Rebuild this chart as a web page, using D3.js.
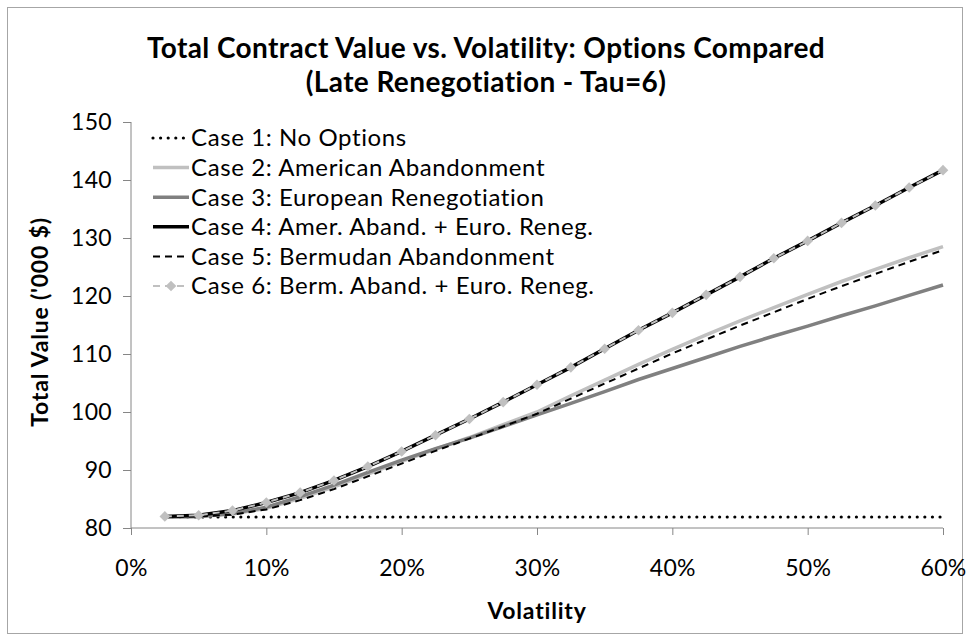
<!DOCTYPE html>
<html lang="en">

  <head>
    <meta charset="UTF-8">
    <title>Total Contract Value vs. Volatility</title>
    <script src="https://d3js.org/d3.v7.min.js"></script>
    <style>
      body { margin: 0; background: #fff; }
      text { font-family: Lato, "Open Sans", sans-serif; fill: #000; }
      .axis path, .axis line { stroke: #868686; }
      .axis text { font-size: 23px; font-family: Lato, sans-serif; letter-spacing: 0.3px; }
      .title { font-weight: bold; font-size: 28px; letter-spacing: 0.4px; }
      .axis-title { font-weight: bold; font-size: 23px; letter-spacing: 0.8px; }
      .legend text { font-size: 24px; letter-spacing: 0.6px; }
    </style>
  </head>

  <body>
    <script>
      // volatility (%) of each point
      const volatility = [2.5, 5, 7.5, 10, 12.5, 15, 17.5, 20, 22.5, 25, 27.5, 30,
        32.5, 35, 37.5, 40, 42.5, 45, 47.5, 50, 52.5, 55, 57.5, 60]

      const case1 = [81.9, 81.9, 81.9, 81.9, 81.9, 81.9, 81.9, 81.9, 81.9, 81.9, 81.9, 81.9,
        81.9, 81.9, 81.9, 81.9, 81.9, 81.9, 81.9, 81.9, 81.9, 81.9, 81.9, 81.9]
      const case2 = [81.9, 82.0, 82.4, 83.4, 85.1, 87.1, 89.3, 91.5, 93.6, 95.6, 97.8, 100.0,
        102.8, 105.5, 108.2, 110.8, 113.3, 115.7, 118.0, 120.3, 122.5, 124.6, 126.6, 128.5]
      const case3 = [81.9, 82.0, 82.5, 83.6, 85.4, 87.4, 89.6, 91.7, 93.7, 95.5, 97.5, 99.5,
        101.5, 103.5, 105.6, 107.5, 109.4, 111.3, 113.1, 114.8, 116.6, 118.3, 120.1, 121.9]
      const case4 = [82.0, 82.2, 83.0, 84.4, 86.1, 88.2, 90.6, 93.2, 96.0, 98.8, 101.7, 104.7,
        107.7, 110.9, 114.1, 117.1, 120.2, 123.3, 126.5, 129.5, 132.6, 135.6, 138.7, 141.7]
      const case5 = [81.9, 82.0, 82.3, 83.2, 84.8, 86.7, 88.9, 91.1, 93.3, 95.4, 97.5, 99.7,
        102.3, 104.9, 107.5, 110.1, 112.5, 114.9, 117.2, 119.5, 121.7, 123.8, 125.9, 127.9]
      const case6 = [82.0, 82.2, 83.0, 84.4, 86.1, 88.2, 90.6, 93.2, 96.0, 98.8, 101.7, 104.7,
        107.7, 110.9, 114.1, 117.1, 120.2, 123.3, 126.5, 129.5, 132.6, 135.6, 138.7, 141.7]

      const seriesNames = [
        "Case 1: No Options",
        "Case 2: American Abandonment",
        "Case 3: European Renegotiation",
        "Case 4: Amer. Aband. + Euro. Reneg.",
        "Case 5: Bermudan Abandonment",
        "Case 6: Berm. Aband. + Euro. Reneg."
      ]
      const xTicks = [0, 10, 20, 30, 40, 50, 60]
      const yTicks = [80, 90, 100, 110, 120, 130, 140, 150]

      // line styles, in the same order as the series
      const styles = [
        { color: "#000", width: 3.2, dash: "0,7.6", cap: "round" },
        { color: "#c0c0c0", width: 3.5, dash: null, cap: "butt" },
        { color: "#808080", width: 3.5, dash: null, cap: "butt" },
        { color: "#000", width: 3.5, dash: null, cap: "butt" },
        { color: "#000", width: 2, dash: "7,5", cap: "butt" },
        { color: "#c0c0c0", width: 2, dash: "7,5", cap: "butt", marker: true }
      ]
      const allSeries = [case1, case2, case3, case4, case5, case6]

      const width = 971, height = 641
      const margin = { left: 131, right: 28, top: 122, bottom: 113 }

      const svg = d3.select("body").append("svg")
        .attr("width", width)
        .attr("height", height)

      // chart border
      svg.append("rect")
        .attr("x", 7.5).attr("y", 7.5)
        .attr("width", 955).attr("height", 626)
        .attr("fill", "#fff")
        .attr("stroke", "#a6a6a6")

      const x = d3.scaleLinear().domain([0, 60]).range([margin.left, width - margin.right])
      const y = d3.scaleLinear().domain([80, 150]).range([height - margin.bottom, margin.top])

      // axes
      svg.append("g")
        .attr("class", "axis")
        .attr("transform", `translate(0,${height - margin.bottom})`)
        .call(d3.axisBottom(x).tickValues(xTicks).tickFormat(d => d + "%").tickSize(7).tickPadding(25))
        .call(g => g.select(".domain").attr("d", `M${x(0)},0H${x(60)}`))

      svg.append("g")
        .attr("class", "axis")
        .attr("transform", `translate(${margin.left},0)`)
        .call(d3.axisLeft(y).tickValues(yTicks).tickSize(8).tickPadding(11))
        .call(g => g.select(".domain").attr("d", `M0,${y(80)}V${y(150)}`))

      svg.selectAll(".axis text").attr("fill", "#000")

      // series lines
      const line = d3.line()
        .x((d, i) => x(volatility[i]))
        .y(d => y(d))

      allSeries.forEach((values, k) => {
        const s = styles[k]
        svg.append("path")
          .datum(values)
          .attr("d", line)
          .attr("fill", "none")
          .attr("stroke", s.color)
          .attr("stroke-width", s.width)
          .attr("stroke-dasharray", s.dash)
          .attr("stroke-linecap", s.cap)

        if (s.marker) {
          svg.append("g").selectAll("path")
            .data(values)
            .join("path")
            .attr("d", d3.symbol(d3.symbolDiamond2, 72))
            .attr("transform", (d, i) => `translate(${x(volatility[i])},${y(d)})`)
            .attr("fill", s.color)
        }
      })

      // legend
      const legend = svg.append("g").attr("class", "legend")
      seriesNames.forEach((name, k) => {
        const s = styles[k]
        const ly = 138 + k * 29.6
        legend.append("line")
          .attr("x1", 153).attr("x2", 189)
          .attr("y1", ly).attr("y2", ly)
          .attr("stroke", s.color)
          .attr("stroke-width", s.width)
          .attr("stroke-dasharray", s.dash)
          .attr("stroke-linecap", s.cap)
        if (s.marker) {
          legend.append("path")
            .attr("d", d3.symbol(d3.symbolDiamond2, 72))
            .attr("transform", `translate(171,${ly})`)
            .attr("fill", s.color)
        }
        legend.append("text")
          .attr("x", 191).attr("y", ly)
          .attr("dy", "0.35em")
          .text(name)
      })

      // titles
      svg.append("text")
        .attr("class", "title")
        .attr("x", 486).attr("y", 58)
        .attr("text-anchor", "middle")
        .text("Total Contract Value vs. Volatility: Options Compared")
      svg.append("text")
        .attr("class", "title")
        .attr("x", 486).attr("y", 92)
        .attr("text-anchor", "middle")
        .text("(Late Renegotiation - Tau=6)")

      svg.append("text")
        .attr("class", "axis-title")
        .attr("x", 537).attr("y", 619)
        .attr("text-anchor", "middle")
        .text("Volatility")

      svg.append("text")
        .attr("class", "axis-title")
        .attr("transform", "translate(48,322) rotate(-90)")
        .attr("text-anchor", "middle")
        .text("Total Value ('000 $)")
    </script>
  </body>

</html>
